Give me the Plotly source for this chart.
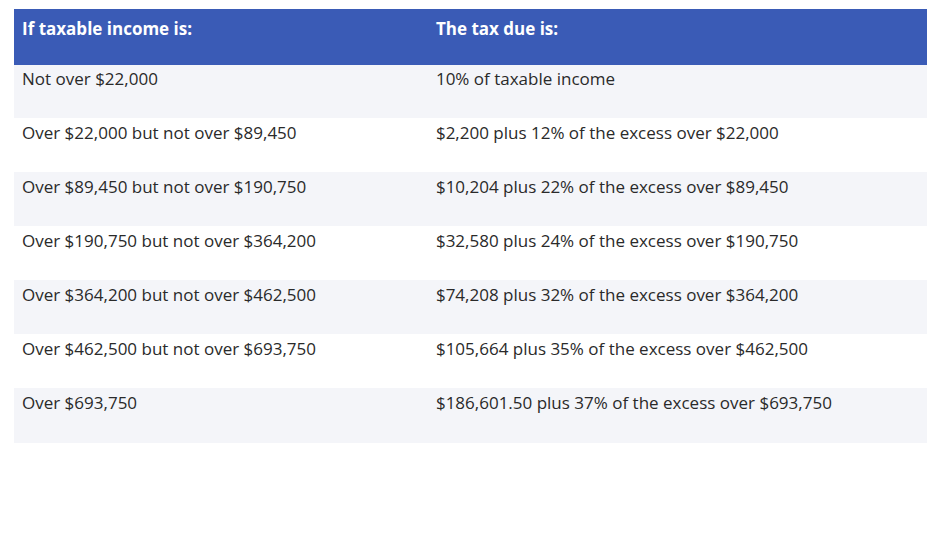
import plotly.graph_objects as go

headers = ["If taxable income is:", "The tax due is:"]
income = ["Not over $22,000", "Over $22,000 but not over $89,450", "Over $89,450 but not over $190,750",
          "Over $190,750 but not over $364,200", "Over $364,200 but not over $462,500",
          "Over $462,500 but not over $693,750", "Over $693,750"]
tax = ["10% of taxable income", "$2,200 plus 12% of the excess over $22,000",
       "$10,204 plus 22% of the excess over $89,450", "$32,580 plus 24% of the excess over $190,750",
       "$74,208 plus 32% of the excess over $364,200", "$105,664 plus 35% of the excess over $462,500",
       "$186,601.50 plus 37% of the excess over $693,750"]

W, H = 936, 539
fills = ["#f4f5f9" if i % 2 == 0 else "#ffffff" for i in range(len(income))]
fig = go.Figure(go.Table(
    columnwidth=[413, 497],
    header=dict(values=[f"<b>{h}</b>" for h in headers], fill_color="#3a5bb6", line_color="#3a5bb6",
                align="left", height=55, font=dict(family="Open Sans", size=17, color="white")),
    cells=dict(values=[income, tax], fill_color=[fills, fills], line_color=[fills, fills],
               align="left", height=54, font=dict(family="Open Sans", size=17, color="#2a2a2a")),
    domain=dict(x=[6 / W, 918 / W], y=[0, 1 - 1 / H]),
))
fig.update_layout(width=W, height=H, margin=dict(l=0, r=0, t=0, b=0), paper_bgcolor="white")
fig.write_html("out.html")
